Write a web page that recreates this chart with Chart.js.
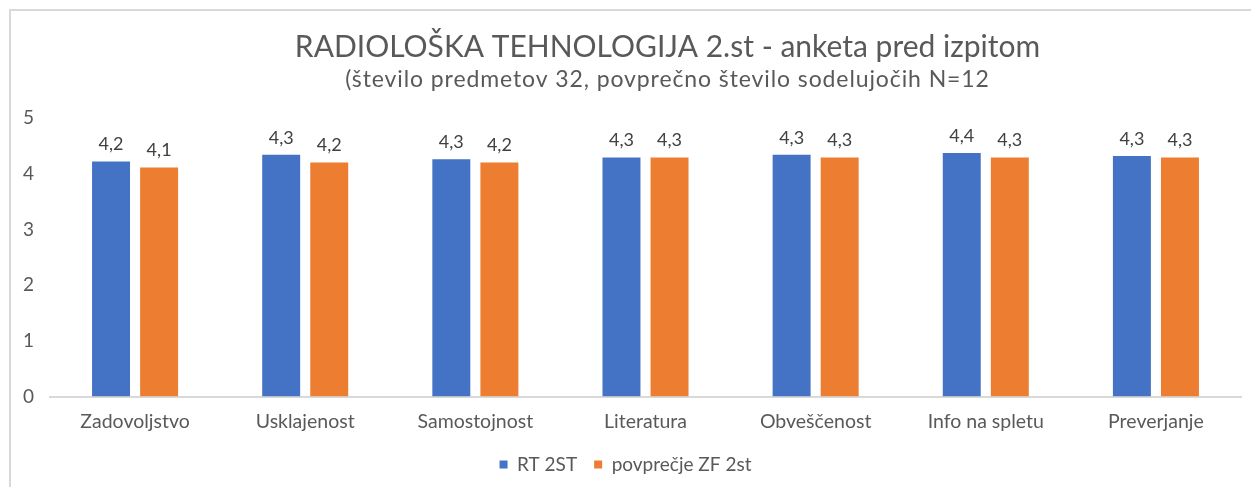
<!DOCTYPE html>
<html>
<head>
<meta charset="utf-8">
<script src="https://cdn.jsdelivr.net/npm/chart.js@4"></script>
<style>
  html, body { margin: 0; padding: 0; background: #fff; }
  #wrap { position: relative; width: 1251px; height: 487px; }
  #frame {
    position: absolute; left: 9px; top: 9px; right: -5px; bottom: -5px;
    border-top: 2px solid #d9d9d9; border-left: 2px solid #d9d9d9;
    pointer-events: none;
  }
</style>
</head>
<body>
<div id="wrap">
  <canvas id="chart" width="1251" height="487"></canvas>
  <div id="frame"></div>
</div>
<script>
// ===== Data =====
const categories = ['Zadovoljstvo', 'Usklajenost', 'Samostojnost', 'Literatura', 'Obveščenost', 'Info na spletu', 'Preverjanje'];
const rtValues = [4.22, 4.34, 4.26, 4.29, 4.34, 4.37, 4.32];
const zfValues = [4.11, 4.2, 4.2, 4.29, 4.29, 4.29, 4.29];
const seriesNames = ['RT 2ST', 'povprečje ZF 2st'];
const yTicks = [0, 1, 2, 3, 4, 5];
const titleText = 'RADIOLOŠKA TEHNOLOGIJA 2.st - anketa pred izpitom';
const subtitleText = '(število predmetov 32, povprečno število sodelujočih N=12';

const FONT = 'Lato, "Open Sans", sans-serif';
const GREY = '#595959';

// title block sits a bit right of the canvas centre, like the original
const titleBlock = {
  id: 'titleBlock',
  afterDraw(chart) {
    const ctx = chart.ctx;
    const cx = chart.chartArea.left + (chart.chartArea.right - chart.chartArea.left) / 2 + 22;
    ctx.save();
    ctx.fillStyle = GREY;
    ctx.textAlign = 'center';
    ctx.textBaseline = 'middle';
    ctx.font = '30px ' + FONT;
    ctx.fillText(titleText, cx, 47);
    ctx.font = '23px ' + FONT;
    ctx.letterSpacing = '0.9px';
    ctx.fillText(subtitleText, cx, 80);
    ctx.restore();
  }
};

// value labels above bars, comma as decimal separator
const barLabels = {
  id: 'barLabels',
  afterDatasetsDraw(chart) {
    const ctx = chart.ctx;
    ctx.save();
    ctx.font = '18px ' + FONT;
    ctx.fillStyle = '#404040';
    ctx.textAlign = 'center';
    ctx.textBaseline = 'bottom';
    chart.data.datasets.forEach((ds, di) => {
      const meta = chart.getDatasetMeta(di);
      meta.data.forEach((bar, i) => {
        const txt = ds.data[i].toFixed(1).replace('.', ',');
        ctx.fillText(txt, bar.x, bar.y - 8);
      });
    });
    ctx.restore();
  }
};

new Chart(document.getElementById('chart'), {
  type: 'bar',
  data: {
    labels: categories,
    datasets: [
      { label: seriesNames[0], data: rtValues, backgroundColor: '#4472C4', barPercentage: 0.79, categoryPercentage: 0.565 },
      { label: seriesNames[1], data: zfValues, backgroundColor: '#ED7D31', barPercentage: 0.79, categoryPercentage: 0.565 },
    ],
  },
  options: {
    responsive: false,
    animation: false,
    layout: { padding: { top: 118, left: 10, right: 10, bottom: 3 } },
    plugins: {
      title: { display: false },
      legend: {
        position: 'bottom',
        labels: {
          color: GREY,
          font: { family: FONT, size: 19 },
          boxWidth: 8,
          boxHeight: 8,
          padding: 17,
        },
      },
      tooltip: { enabled: false },
    },
    scales: {
      x: {
        grid: { display: false },
        border: { color: '#d9d9d9', width: 2 },
        ticks: { color: GREY, font: { family: FONT, size: 19.5 }, padding: 5 },
      },
      y: {
        min: 0,
        max: 5,
        afterBuildTicks: (axis) => { axis.ticks = yTicks.map(v => ({ value: v })); },
        afterFit: (axis) => { axis.width = 40; },
        grid: { display: false },
        border: { display: false },
        ticks: { color: GREY, font: { family: FONT, size: 19 }, padding: 8 },
      },
    },
  },
  plugins: [titleBlock, barLabels],
});
</script>
</body>
</html>
